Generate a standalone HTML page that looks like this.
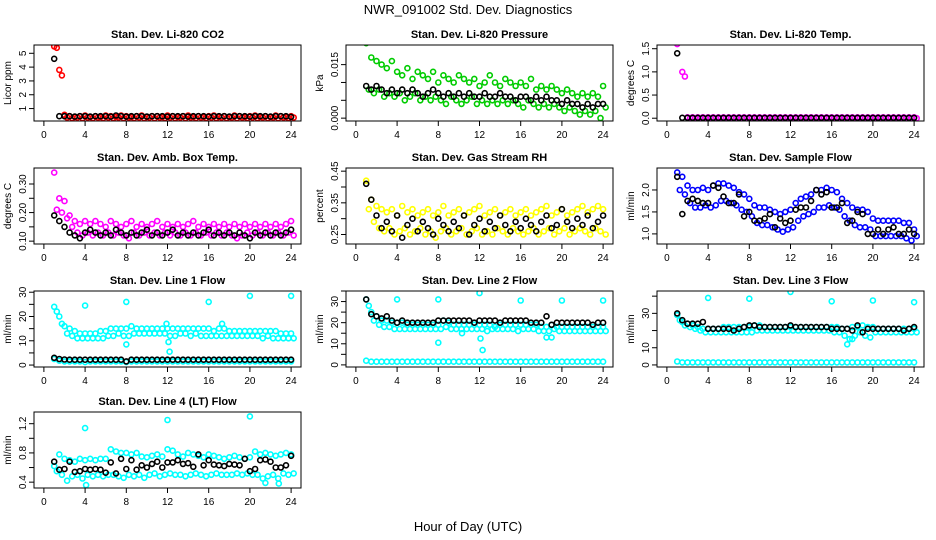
<!DOCTYPE html>
<html><head><meta charset="utf-8"><style>
body{margin:0;background:#fff;}
svg{display:block;font-family:"Liberation Sans",sans-serif;}
</style></head><body>
<svg id="chart" width="936" height="540" xmlns="http://www.w3.org/2000/svg">
<text x="468" y="14" font-size="13" text-anchor="middle">NWR_091002  Std. Dev. Diagnostics</text>
<text x="468" y="531" font-size="13" text-anchor="middle">Hour of Day (UTC)</text>
</svg>
<script>
const xTicks=[0,4,8,12,16,20,24];
// panel 1 CO2
const co2A=[5.5,3.8,0.55,0.45,0.4,0.45,0.5,0.4,0.45,0.4,0.5,0.45,0.4,0.5,0.45,0.4,0.45,0.5,0.4,0.45,0.45,0.4,0.5,0.45,0.4,0.45,0.5,0.4,0.45,0.4,0.45,0.5,0.4,0.45,0.4,0.5,0.45,0.4,0.45,0.5,0.4,0.45,0.4,0.5,0.45,0.4,0.45];
const co2B=[5.4,3.4,0.35,0.3,0.35,0.3,0.35,0.3,0.35,0.3,0.35,0.3,0.35,0.3,0.35,0.3,0.35,0.3,0.35,0.3,0.35,0.3,0.35,0.3,0.35,0.3,0.35,0.3,0.35,0.3,0.35,0.3,0.35,0.3,0.35,0.3,0.35,0.3,0.35,0.3,0.35,0.3,0.35,0.3,0.35,0.3,0.35];
const co2K=[4.6,0.45,0.45,0.45,0.42,0.45,0.45,0.42,0.45,0.45,0.45,0.42,0.5,0.45,0.42,0.45,0.45,0.45,0.42,0.45,0.45,0.45,0.42,0.45,0.45,0.45,0.42,0.45,0.45,0.45,0.42,0.45,0.45,0.45,0.42,0.45,0.45,0.45,0.42,0.45,0.45,0.45,0.42,0.45,0.45,0.45,0.4];
// panel 2 pressure
const prA=[0.021,0.017,0.016,0.015,0.014,0.016,0.013,0.012,0.014,0.011,0.013,0.012,0.011,0.013,0.010,0.012,0.011,0.010,0.012,0.011,0.010,0.011,0.009,0.010,0.012,0.010,0.009,0.011,0.010,0.009,0.010,0.009,0.011,0.008,0.009,0.008,0.009,0.008,0.007,0.008,0.007,0.006,0.007,0.006,0.007,0.006,0.009];
const prB=[0.008,0.007,0.008,0.006,0.007,0.006,0.007,0.005,0.006,0.007,0.005,0.006,0.005,0.006,0.005,0.004,0.006,0.005,0.004,0.005,0.006,0.004,0.005,0.004,0.005,0.004,0.005,0.004,0.005,0.004,0.003,0.005,0.004,0.003,0.004,0.003,0.004,0.003,0.002,0.003,0.002,0.001,0.002,0.001,0.002,0.000,0.003];
const prK=[0.009,0.008,0.009,0.008,0.007,0.008,0.007,0.008,0.007,0.008,0.007,0.006,0.007,0.008,0.007,0.006,0.007,0.006,0.007,0.006,0.007,0.006,0.006,0.007,0.006,0.006,0.007,0.006,0.006,0.005,0.006,0.006,0.005,0.006,0.005,0.006,0.005,0.005,0.004,0.005,0.004,0.004,0.003,0.004,0.003,0.004,0.004];
// panel 3 temp
const tpA=[1.6,1.0,0.02,0.02,0.02,0.02,0.02,0.02,0.02,0.02,0.02,0.02,0.02,0.02,0.02,0.02,0.02,0.02,0.02,0.02,0.02,0.02,0.02,0.02,0.02,0.02,0.02,0.02,0.02,0.02,0.02,0.02,0.02,0.02,0.02,0.02,0.02,0.02,0.02,0.02,0.02,0.02,0.02,0.02,0.02,0.02,0.02];
const tpB=[1.7,0.9,0.0,0.0,0.0,0.0,0.0,0.0,0.0,0.0,0.0,0.0,0.0,0.0,0.0,0.0,0.0,0.0,0.0,0.0,0.0,0.0,0.0,0.0,0.0,0.0,0.0,0.0,0.0,0.0,0.0,0.0,0.0,0.0,0.0,0.0,0.0,0.0,0.0,0.0,0.0,0.0,0.0,0.0,0.0,0.0,0.0];
const tpK=[1.4,0.01,0.01,0.01,0.01,0.01,0.01,0.01,0.01,0.01,0.01,0.01,0.01,0.01,0.01,0.01,0.01,0.01,0.01,0.01,0.01,0.01,0.01,0.01,0.01,0.01,0.01,0.01,0.01,0.01,0.01,0.01,0.01,0.01,0.01,0.01,0.01,0.01,0.01,0.01,0.01,0.01,0.01,0.01,0.01,0.01,0.01];
// panel 4 box temp
const btA=[0.34,0.25,0.24,0.19,0.17,0.16,0.17,0.16,0.17,0.16,0.15,0.17,0.16,0.15,0.16,0.17,0.15,0.16,0.15,0.16,0.17,0.15,0.16,0.15,0.16,0.15,0.16,0.17,0.15,0.16,0.15,0.16,0.15,0.16,0.15,0.16,0.15,0.16,0.15,0.16,0.15,0.16,0.15,0.16,0.15,0.16,0.17];
const btB=[0.21,0.2,0.18,0.15,0.13,0.12,0.13,0.12,0.13,0.12,0.13,0.12,0.13,0.12,0.11,0.13,0.12,0.13,0.12,0.13,0.12,0.13,0.12,0.13,0.12,0.13,0.12,0.13,0.12,0.13,0.12,0.13,0.12,0.13,0.12,0.11,0.12,0.13,0.12,0.13,0.12,0.13,0.12,0.13,0.12,0.13,0.12];
const btK=[0.19,0.17,0.15,0.13,0.12,0.11,0.13,0.14,0.13,0.12,0.13,0.12,0.14,0.13,0.12,0.13,0.12,0.13,0.14,0.12,0.13,0.12,0.13,0.14,0.12,0.13,0.12,0.13,0.12,0.13,0.14,0.12,0.13,0.12,0.13,0.12,0.13,0.12,0.11,0.13,0.12,0.13,0.12,0.13,0.12,0.13,0.14];
// panel 5 RH
const rhA=[0.42,0.36,0.34,0.33,0.32,0.33,0.31,0.34,0.32,0.33,0.31,0.32,0.33,0.31,0.32,0.34,0.31,0.32,0.33,0.31,0.32,0.33,0.34,0.31,0.32,0.33,0.31,0.32,0.33,0.31,0.32,0.33,0.31,0.32,0.33,0.34,0.31,0.32,0.33,0.31,0.32,0.33,0.34,0.32,0.33,0.34,0.33];
const rhB=[0.33,0.29,0.27,0.26,0.27,0.25,0.26,0.27,0.25,0.26,0.27,0.25,0.26,0.24,0.26,0.27,0.25,0.26,0.27,0.25,0.26,0.27,0.25,0.26,0.25,0.27,0.26,0.25,0.27,0.26,0.25,0.26,0.27,0.25,0.26,0.27,0.25,0.26,0.27,0.25,0.26,0.27,0.26,0.25,0.27,0.26,0.25];
const rhK=[0.41,0.36,0.31,0.27,0.29,0.26,0.31,0.24,0.28,0.30,0.26,0.29,0.27,0.25,0.30,0.28,0.26,0.29,0.27,0.31,0.25,0.28,0.30,0.26,0.29,0.27,0.31,0.28,0.26,0.29,0.27,0.30,0.28,0.26,0.29,0.31,0.27,0.28,0.33,0.29,0.27,0.30,0.28,0.31,0.27,0.29,0.31];
// panel 6 sample flow
const sfA=[2.4,2.3,2.1,2.0,2.0,2.05,2.0,2.1,2.15,2.15,2.1,2.05,1.95,1.9,1.8,1.65,1.6,1.6,1.55,1.5,1.45,1.5,1.55,1.7,1.8,1.85,1.9,2.0,2.0,2.05,2.0,1.95,1.8,1.7,1.6,1.55,1.55,1.5,1.35,1.3,1.3,1.3,1.3,1.3,1.25,1.25,1.1];
const sfB=[2.0,1.9,1.7,1.6,1.6,1.65,1.6,1.65,1.75,1.75,1.7,1.65,1.55,1.5,1.4,1.25,1.2,1.2,1.15,1.1,1.05,1.1,1.15,1.3,1.4,1.45,1.5,1.6,1.6,1.65,1.6,1.55,1.4,1.3,1.2,1.15,1.15,1.1,0.95,0.95,0.95,0.95,0.95,0.95,0.9,0.85,0.95];
const sfK=[2.3,1.45,1.75,1.8,1.75,1.7,1.7,2.1,2.05,1.85,1.7,1.7,1.9,1.4,1.5,1.3,1.3,1.35,1.45,1.15,1.35,1.25,1.3,1.55,1.6,1.6,1.75,2.0,1.9,1.95,1.6,1.6,1.7,1.25,1.3,1.5,1.45,1.0,1.0,1.1,1.0,1.1,1.15,1.0,1.0,1.1,1.0];
// panel 7 line 1
const l1A=[24,20,16,15,14,13,13,13,13,14,14,15,15,15,15,16,15,15,15,15,15,15,15,15,15,15,15,15,15,15,15,14,15,15,14,14,14,14,14,14,14,14,14,14,13,13,13];
const l1B=[22,17,13,12,11,11,11,11,11,11,12,12,13,12,12,13,13,13,13,13,13,13,12,12,13,13,12,13,12,12,12,12,12,12,12,12,12,12,12,12,11,12,11,11,11,11,11];
const l1K=[3,2.5,2.3,2.2,2.2,2.2,2.2,2.2,2.2,2.2,2.2,2.2,2.2,2.2,1.5,2.2,2.2,2.2,2.2,2.2,2.2,2.2,2.2,2.2,2.2,2.2,2.2,2.2,2.2,2.2,2.2,2.2,2.2,2.2,2.2,2.2,2.2,2.2,2.2,2.2,2.2,2.2,2.2,2.2,2.2,2.2,2.2];
const l1Lo=[2.5,1.8,1.5,1.5,1.5,1.5,1.2,1.5,1.5,1.5,1.5,1.5,1.5,1.5,1.2,1.5,1.5,1.5,1.5,1.5,1.5,1.5,1.5,1.5,1.5,1.5,1.5,1.5,1.5,1.5,1.5,1.5,1.5,1.5,1.5,1.5,1.5,1.5,1.5,1.5,1.5,1.5,1.5,1.5,1.5,1.5,1.5];
const l1OutH=[4,8,8,11.9,12.1,12.2,16,17.3,20,24];
const l1OutV=[24.5,26,8.5,17,9.5,5.5,26,17,28.5,28.5];
// panel 8 line 2
const l2A=[31,25,23,21,21,20,20,20,19,19,19,19,19,19,19,21,20,19,19,19,19,19,19,19,19,18,19,19,19,19,19,19,19,19,18,18,19,18,18,18,18,18,18,18,18,18,18];
const l2B=[28,21,19,18,18,17,17,17,17,17,17,17,17,17,17,18,17,17,17,17,17,17,17,16,17,17,17,17,17,16,17,17,17,16,16,16,17,16,16,16,16,16,16,16,16,16,16];
const l2K=[31,24,23,22,23,21,20,21,20,20,20,20,20,20,21,21,21,21,21,21,21,20,21,21,21,21,20,21,21,21,21,21,20,20,20,23,19,20,20,20,20,20,20,20,19,20,20];
const l2Lo=[2,1.5,1.5,1.5,1.5,1.5,1.5,1.5,1.5,1.5,1.5,1.5,1.5,1.5,1.5,1.5,1.5,1.5,1.5,1.5,1.5,1.5,1.5,1.5,1.5,1.5,1.5,1.5,1.5,1.5,1.5,1.5,1.5,1.5,1.5,1.5,1.5,1.5,1.5,1.5,1.5,1.5,1.5,1.5,1.5,1.5,1.5];
const l2OutH=[4,8,8,10.3,12,12.1,12.3,16,18.5,19,20,24];
const l2OutV=[31,31,10.5,15,34,12.5,7,30.5,13,13,30.5,30.5];
// panel 9 line 3
const l3A=[29,25,24,23,22,21,21,21,21,22,22,22,22,22,22,23,23,22,22,22,22,22,22,22,22,22,22,22,22,22,22,22,21,21,22,22,23,22,22,21,21,21,21,21,21,21,21];
const l3B=[26,23,22,21,20,19,19,19,19,19,19,19,19,19,19,20,20,20,20,20,20,20,20,20,20,20,20,20,20,20,19,19,17,15,17,19,17,16,19,19,19,19,19,19,19,19,19];
const l3K=[30,26,24,24,24,25,21,21,21,21,21,20,21,22,23,23,22,22,22,22,22,22,23,22,22,22,22,22,22,22,21,21,21,21,20,23,19,21,21,21,21,21,21,21,20,21,22];
const l3Lo=[2,1.5,1.5,1.5,1.5,1.5,1.5,1.5,1.5,1.5,1.5,1.5,1.5,1.5,1.5,1.5,1.5,1.5,1.5,1.5,1.5,1.5,1.5,1.5,1.5,1.5,1.5,1.5,1.5,1.5,1.5,1.5,1.5,1.5,1.5,1.5,1.5,1.5,1.5,1.5,1.5,1.5,1.5,1.5,1.5,1.5,1.5];
const l3OutH=[4,8,12,16,17.5,18,20,24];
const l3OutV=[39,38.5,42.5,37,12,15,37.5,36.5];
// panel 10 line 4
const l4A=[0.62,0.78,0.72,0.7,0.68,0.72,0.7,0.72,0.7,0.72,0.72,0.85,0.82,0.8,0.8,0.78,0.8,0.75,0.74,0.76,0.78,0.75,0.85,0.83,0.78,0.75,0.8,0.78,0.76,0.74,0.78,0.76,0.74,0.72,0.74,0.76,0.74,0.72,0.74,0.82,0.78,0.8,0.78,0.76,0.78,0.8,0.78];
const l4B=[0.55,0.5,0.42,0.48,0.5,0.45,0.5,0.48,0.5,0.48,0.5,0.5,0.48,0.46,0.5,0.48,0.5,0.46,0.5,0.52,0.48,0.5,0.52,0.5,0.5,0.48,0.5,0.52,0.5,0.48,0.5,0.52,0.5,0.5,0.5,0.52,0.5,0.52,0.5,0.5,0.45,0.48,0.5,0.45,0.52,0.5,0.52];
const l4K=[0.68,0.57,0.58,0.68,0.54,0.55,0.58,0.57,0.58,0.57,0.53,0.67,0.52,0.72,0.58,0.70,0.57,0.63,0.60,0.65,0.68,0.60,0.67,0.67,0.70,0.65,0.66,0.61,0.78,0.63,0.70,0.64,0.63,0.62,0.65,0.64,0.63,0.72,0.55,0.58,0.70,0.71,0.68,0.60,0.60,0.63,0.76];
const l4OutH=[4,12,20,21.5,22.8,4.1];
const l4OutV=[1.14,1.25,1.3,0.39,0.38,0.36];

const panels=[
 {title:"Stan. Dev. Li-820 CO2",ylab:"Licor ppm",col:0,row:0,ylim:[0.1,5.6],ticks:[1,2,3,4,5],labels:["1","2","3","4","5"],color:"#ff0000",A:co2A,B:co2B,K:co2K},
 {title:"Stan. Dev. Li-820 Pressure",ylab:"kPa",col:1,row:0,ylim:[-0.0008,0.0205],ticks:[0,0.005,0.01,0.015],labels:["0.000","","","0.015"],color:"#00cc00",A:prA,B:prB,K:prK},
 {title:"Stan. Dev. Li-820 Temp.",ylab:"degrees C",col:2,row:0,ylim:[-0.06,1.58],ticks:[0,0.5,1,1.5],labels:["0.0","0.5","1.0","1.5"],color:"#ff00ff",A:tpA,B:tpB,K:tpK},
 {title:"Stan. Dev. Amb. Box Temp.",ylab:"degrees C",col:0,row:1,ylim:[0.09,0.356],ticks:[0.1,0.15,0.2,0.25,0.3],labels:["0.10","","0.20","","0.30"],color:"#ff00ff",A:btA,B:btB,K:btK},
 {title:"Stan. Dev. Gas Stream RH",ylab:"percent",col:1,row:1,ylim:[0.22,0.46],ticks:[0.25,0.3,0.35,0.4,0.45],labels:["0.25","","0.35","","0.45"],color:"#ffff00",A:rhA,B:rhB,K:rhK},
 {title:"Stan. Dev. Sample Flow",ylab:"ml/min",col:2,row:1,ylim:[0.77,2.5],ticks:[1,1.5,2],labels:["1.0","1.5","2.0"],color:"#0000ff",A:sfA,B:sfB,K:sfK},
 {title:"Stan. Dev. Line 1 Flow",ylab:"ml/min",col:0,row:2,ylim:[-0.8,30.5],ticks:[0,5,10,15,20,25,30],labels:["0","","10","","20","","30"],color:"#00ffff",A:l1A,B:l1B,K:l1K,Lo:l1Lo,OH:l1OutH,OV:l1OutV},
 {title:"Stan. Dev. Line 2 Flow",ylab:"ml/min",col:1,row:2,ylim:[-1,35],ticks:[0,5,10,15,20,25,30,35],labels:["0","","10","","20","","30",""],color:"#00ffff",A:l2A,B:l2B,K:l2K,Lo:l2Lo,OH:l2OutH,OV:l2OutV},
 {title:"Stan. Dev. Line 3 Flow",ylab:"ml/min",col:2,row:2,ylim:[-1.2,43],ticks:[0,10,20,30,40],labels:["0","10","","30",""],color:"#00ffff",A:l3A,B:l3B,K:l3K,Lo:l3Lo,OH:l3OutH,OV:l3OutV},
 {title:"Stan. Dev. Line 4 (LT) Flow",ylab:"ml/min",col:0,row:3,ylim:[0.32,1.36],ticks:[0.4,0.6,0.8,1.0,1.2],labels:["0.4","","0.8","","1.2"],color:"#00ffff",A:l4A,B:l4B,K:l4K,OH:l4OutH,OV:l4OutV}
];
const NS="http://www.w3.org/2000/svg";
const svg=document.getElementById('chart');
const colL=[34,346,657], rowT=[45,168,291,412], W=267, H=76;
function mk(tag,attrs,parent){const e=document.createElementNS(NS,tag);for(const k in attrs)e.setAttribute(k,attrs[k]);(parent||svg).appendChild(e);return e;}
panels.forEach((p,pi)=>{
 const L=colL[p.col], T=rowT[p.row];
 const g=mk('g',{});
 
 
 const xs=v=>L+W*(v+0.96)/25.92;
 const ys=v=>T+H-H*(v-p.ylim[0])/(p.ylim[1]-p.ylim[0]);
 const hr=i=>1+0.5*i;
 const cid='clip'+pi;
 const cp=mk('clipPath',{id:cid},g);mk('rect',{x:L,y:T,width:W,height:H},cp);
 const pts=mk('g',{'clip-path':'url(#'+cid+')',fill:'none','stroke-width':1.6},g);
 
 
 function draw(arr,hf,color,name){arr.forEach((v,i)=>{const c=mk('circle',{cx:xs(hf(i)).toFixed(1),cy:ys(v).toFixed(1),r:2.5,stroke:color},pts);
  
  });}
 if(p.Lo)draw(p.Lo,hr,p.color,'low-point');
 draw(p.A,hr,p.color,'color-point');
 draw(p.B,i=>hr(i)+0.25,p.color,'color-point');
 if(p.OH)draw(p.OV,i=>p.OH[i],p.color,'outlier-point');
 draw(p.K,hr,'#000','black-point');
 mk('rect',{x:L,y:T,width:W,height:H,fill:'none',stroke:'#000','stroke-width':1},g);
 const tt=mk('text',{x:L+W/2,y:T-7,'font-size':11,'font-weight':'bold','text-anchor':'middle'},g);tt.textContent=p.title;
 
 
 xTicks.forEach(t=>{const x=xs(t);mk('line',{x1:x,y1:T+H,x2:x,y2:T+H+5,stroke:'#000'},g);
  const tx=mk('text',{x:x,y:T+H+17,'font-size':10,'text-anchor':'middle'},g);tx.textContent=t;
  
  });
 p.ticks.forEach((t,i)=>{const y=ys(t);mk('line',{x1:L-5,y1:y,x2:L,y2:y,stroke:'#000'},g);
  if(p.labels[i]){const ty=mk('text',{x:L-8,y:y,'font-size':10,'text-anchor':'middle',transform:'rotate(-90 '+(L-8)+' '+y+')'},g);ty.textContent=p.labels[i];
  
  }});
 const yl=mk('text',{x:L-23,y:T+H/2,'font-size':10,'text-anchor':'middle',transform:'rotate(-90 '+(L-23)+' '+(T+H/2)+')'},g);yl.textContent=p.ylab;
 
 
});
</script>
</body></html>
